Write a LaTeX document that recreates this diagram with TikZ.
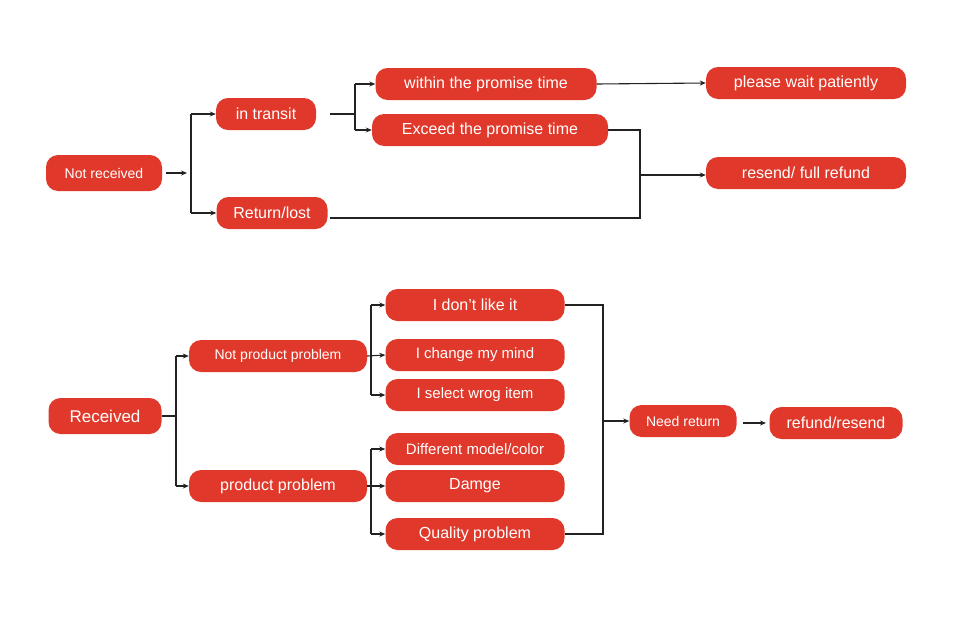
\documentclass[tikz,border=0pt]{standalone}
\usepackage{fontspec}
\setmainfont{Liberation Sans}
\usetikzlibrary{arrows.meta}
\definecolor{boxred}{HTML}{E0392B}
\definecolor{ln}{HTML}{222222}
\begin{document}
\begin{tikzpicture}[x=1pt,y=-1pt,
  box/.style={fill=boxred,rounded corners=12pt,text=white,inner sep=0pt,minimum height=32pt,font=\fontsize{16}{18}\selectfont},
  ln/.style={draw=ln,line width=1.1pt},
  arr/.style={ln,-{Stealth[length=6pt,width=5pt]}}]
\useasboundingbox (0,0) rectangle (960,616);
% top
\node[box,minimum width=116pt,minimum height=36pt,font=\fontsize{14}{16}\selectfont] (nr) at (104,173) {Not received};
\node[box,minimum width=100pt] (it) at (266,114) {in transit};
\node[box,minimum width=111pt] (rl) at (272,213) {Return/lost};
\node[box,minimum width=221pt] (wi) at (486,84) {within the promise time};
\node[box,minimum width=236pt] (ex) at (490,130) {Exceed the promise time};
\node[box,minimum width=200pt] (pw) at (806,83) {please wait patiently};
\node[box,minimum width=200pt] (rs) at (806,173) {resend/ full refund};
\coordinate (a1) at (166,173); \coordinate (a2) at (187,173);
\coordinate (v1) at (191,114); \coordinate (v2) at (191,213);
\draw[arr] (a1) -- (a2);
\draw[ln] (v1) -- (v2);
\draw[arr] (v1) -- (it.west);
\draw[arr] (v2) -- (rl.west);
\coordinate (t0) at (330,114); \coordinate (t1) at (355,114);
\coordinate (t2) at (355,84); \coordinate (t3) at (355,130);
\draw[ln] (t0) -- (t1); \draw[ln] (t2) -- (t3);
\draw[arr] (t2) -- (wi.west);
\draw[arr] (t3) -- (ex.west);
\draw[arr] (wi.east) -- (pw.west);
\coordinate (r0) at (330,218); \coordinate (r1) at (640,218);
\coordinate (r2) at (640,130); \coordinate (r3) at (640,175);
\draw[ln] (ex.east) -- (r2) -- (r1) -- (r0);
\draw[arr] (r3) -- (rs.west |- r3);
% bottom
\node[box,minimum width=113pt,minimum height=36pt,font=\fontsize{17}{19}\selectfont] (rc) at (105,416) {Received};
\node[box,minimum width=178pt,font=\fontsize{14}{16}\selectfont] (np) at (278,356) {Not product problem};
\node[box,minimum width=178pt,font=\fontsize{16}{18}\selectfont] (pp) at (278,486) {product problem};
\node[box,minimum width=179pt] (d1) at (475,305) {I don’t like it};
\node[box,minimum width=179pt,font=\fontsize{15}{17}\selectfont] (d2) at (475,355) {I change my mind};
\node[box,minimum width=179pt,font=\fontsize{15}{17}\selectfont] (d3) at (475,395) {I select wrog item};
\node[box,minimum width=179pt,font=\fontsize{15}{17}\selectfont] (d4) at (475,449) {Different model/color};
\node[box,minimum width=179pt] (d5) at (475,486) {Damge};
\node[box,minimum width=179pt] (d6) at (475,534) {Quality problem};
\node[box,minimum width=107pt,font=\fontsize{14}{16}\selectfont] (nd) at (683,421) {Need return};
\node[box,minimum width=133pt] (rf) at (836,423) {refund/resend};
\coordinate (b1) at (176,416); \coordinate (b2) at (176,356); \coordinate (b3) at (176,486);
\draw[ln] (rc.east) -- (b1); \draw[ln] (b2) -- (b3);
\draw[arr] (b2) -- (np.west); \draw[arr] (b3) -- (pp.west);
\coordinate (c1) at (371,305); \coordinate (c2) at (371,395);
\draw[ln] (c1) -- (c2);
\draw[arr] (c1) -- (d1.west); \draw[arr] (np.east) -- (d2.west); \draw[arr] (c2) -- (d3.west);
\coordinate (e1) at (371,449); \coordinate (e2) at (371,534);
\draw[ln] (e1) -- (e2);
\draw[arr] (e1) -- (d4.west); \draw[arr] (pp.east) -- (d5.west); \draw[arr] (e2) -- (d6.west);
\coordinate (f1) at (603,305); \coordinate (f2) at (603,534); \coordinate (f3) at (603,421);
\draw[ln] (d1.east) -- (f1) -- (f2) -- (d6.east);
\draw[arr] (f3) -- (nd.west);
\coordinate (g1) at (743,423); \coordinate (g2) at (766,423);
\draw[arr] (g1) -- (g2);
\end{tikzpicture}
\end{document}
